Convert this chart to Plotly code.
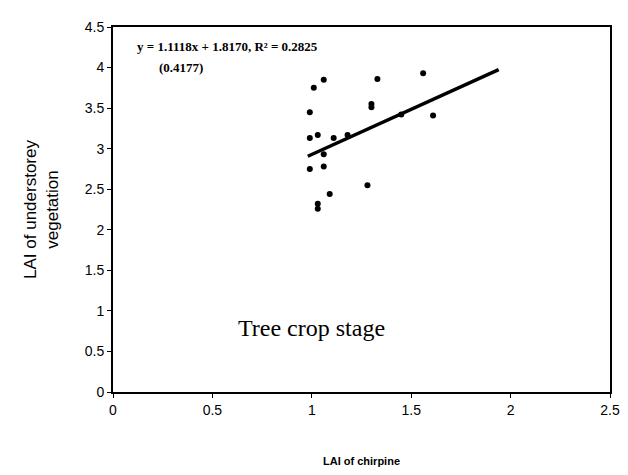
import plotly.graph_objects as go

# LAI of chirpine (x) vs LAI of understorey vegetation (y), tree crop stage
chirpine_lai = [1.06, 1.01, 0.99, 1.33, 1.56, 1.30, 1.30, 1.45, 1.61, 0.99, 1.03,
                1.11, 1.18, 1.06, 0.99, 1.06, 1.09, 1.28, 1.03, 1.03]
understorey_lai = [3.85, 3.75, 3.45, 3.86, 3.93, 3.55, 3.51, 3.42, 3.41, 3.13, 3.17,
                   3.13, 3.17, 2.93, 2.75, 2.78, 2.44, 2.55, 2.32, 2.26]

slope = 1.1118
intercept = 1.8170
fit_x = [0.98, 1.94]
fit_y = [slope * x + intercept for x in fit_x]

x_ticks = [0, 0.5, 1, 1.5, 2, 2.5]
y_ticks = [0, 0.5, 1, 1.5, 2, 2.5, 3, 3.5, 4, 4.5]

fig = go.Figure()
fig.add_trace(go.Scatter(x=chirpine_lai, y=understorey_lai, mode='markers',
                         marker=dict(color='black', size=6), showlegend=False))
fig.add_trace(go.Scatter(x=fit_x, y=fit_y, mode='lines',
                         line=dict(color='black', width=3.5), showlegend=False))

eq_font = dict(family='Liberation Serif', size=13, color='black')
fig.add_annotation(x=0, y=1, xref='paper', yref='paper', xanchor='left', yanchor='top',
                   xshift=22, yshift=-10, showarrow=False,
                   text='<b>y = 1.1118x + 1.8170, R² = 0.2825</b>', font=eq_font)
fig.add_annotation(x=0, y=1, xref='paper', yref='paper', xanchor='left', yanchor='top',
                   xshift=44, yshift=-31, showarrow=False,
                   text='<b>(0.4177)</b>', font=eq_font)
fig.add_annotation(x=1.0, y=0.79, showarrow=False, text='Tree crop stage',
                   font=dict(family='Liberation Serif', size=24, color='black'))

fig.update_layout(
    width=612, height=459,
    plot_bgcolor='white', paper_bgcolor='white',
    margin=dict(l=105, r=10, t=19, b=75),
    font=dict(family='Liberation Sans', color='black'),
    xaxis=dict(range=[0, 2.5], tickvals=x_ticks, ticktext=[str(v) for v in x_ticks],
               automargin=False,
               showgrid=False, zeroline=False, showline=True, linecolor='black',
               linewidth=2, mirror=True, ticks='outside', ticklen=4, tickcolor='black',
               tickfont=dict(size=14),
               title=dict(text='<b>LAI of chirpine</b>', font=dict(size=11), standoff=43)),
    yaxis=dict(range=[0, 4.5], tickvals=y_ticks, ticktext=[str(v) for v in y_ticks],
               automargin=False,
               showgrid=False, zeroline=False, showline=True, linecolor='black',
               linewidth=2, mirror=True, ticks='outside', ticklen=4, tickcolor='black',
               tickfont=dict(size=14),
               title=dict(text='LAI of understorey<br>vegetation', font=dict(size=17), standoff=22)),
)

fig.write_html("out.html")
